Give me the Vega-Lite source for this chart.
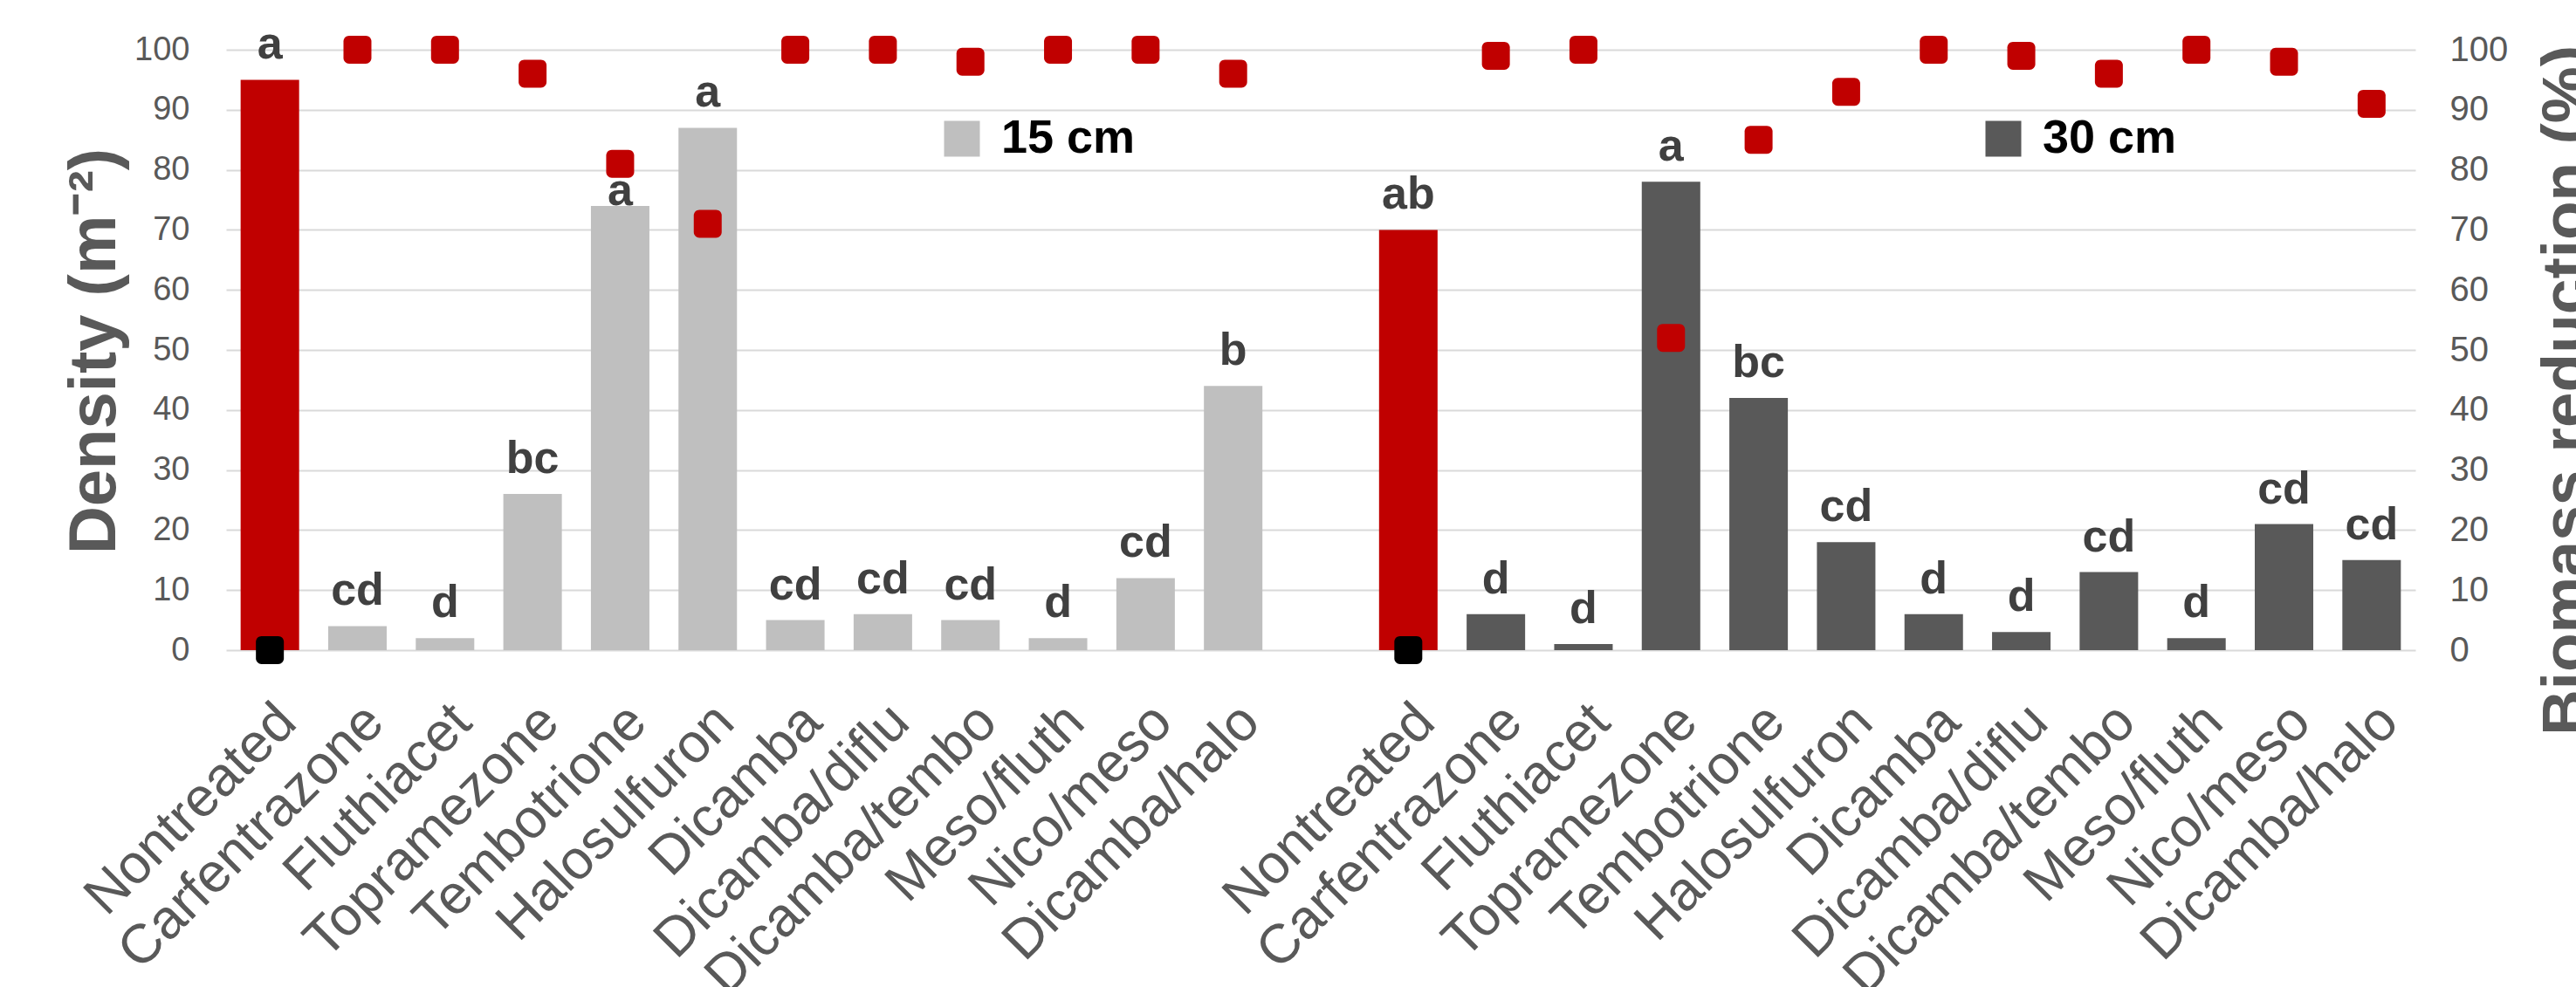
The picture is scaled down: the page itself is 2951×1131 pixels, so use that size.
{
  "$schema": "https://vega.github.io/schema/vega-lite/v6.json",
  "autosize": {"type": "none"},
  "width": 2508,
  "height": 688,
  "padding": {"left": 259, "top": 57, "right": 184, "bottom": 386},
  "background": "white",
  "config": {
    "view": {"stroke": null},
    "font": "Liberation Sans"
  },
  "data": {
    "values": [
      {"slot": "15 cm|Nontreated", "height": "15 cm", "treatment": "Nontreated", "density": 95, "letter": "a", "biomass": 0},
      {"slot": "15 cm|Carfentrazone", "height": "15 cm", "treatment": "Carfentrazone", "density": 4, "letter": "cd", "biomass": 100},
      {"slot": "15 cm|Fluthiacet", "height": "15 cm", "treatment": "Fluthiacet", "density": 2, "letter": "d", "biomass": 100},
      {"slot": "15 cm|Topramezone", "height": "15 cm", "treatment": "Topramezone", "density": 26, "letter": "bc", "biomass": 96},
      {"slot": "15 cm|Tembotrione", "height": "15 cm", "treatment": "Tembotrione", "density": 74, "letter": "a", "biomass": 81},
      {"slot": "15 cm|Halosulfuron", "height": "15 cm", "treatment": "Halosulfuron", "density": 87, "letter": "a", "biomass": 71},
      {"slot": "15 cm|Dicamba", "height": "15 cm", "treatment": "Dicamba", "density": 5, "letter": "cd", "biomass": 100},
      {"slot": "15 cm|Dicamba/diflu", "height": "15 cm", "treatment": "Dicamba/diflu", "density": 6, "letter": "cd", "biomass": 100},
      {"slot": "15 cm|Dicamba/tembo", "height": "15 cm", "treatment": "Dicamba/tembo", "density": 5, "letter": "cd", "biomass": 98},
      {"slot": "15 cm|Meso/fluth", "height": "15 cm", "treatment": "Meso/fluth", "density": 2, "letter": "d", "biomass": 100},
      {"slot": "15 cm|Nico/meso", "height": "15 cm", "treatment": "Nico/meso", "density": 12, "letter": "cd", "biomass": 100},
      {"slot": "15 cm|Dicamba/halo", "height": "15 cm", "treatment": "Dicamba/halo", "density": 44, "letter": "b", "biomass": 96},
      {"slot": "30 cm|Nontreated", "height": "30 cm", "treatment": "Nontreated", "density": 70, "letter": "ab", "biomass": 0},
      {"slot": "30 cm|Carfentrazone", "height": "30 cm", "treatment": "Carfentrazone", "density": 6, "letter": "d", "biomass": 99},
      {"slot": "30 cm|Fluthiacet", "height": "30 cm", "treatment": "Fluthiacet", "density": 1, "letter": "d", "biomass": 100},
      {"slot": "30 cm|Topramezone", "height": "30 cm", "treatment": "Topramezone", "density": 78, "letter": "a", "biomass": 52},
      {"slot": "30 cm|Tembotrione", "height": "30 cm", "treatment": "Tembotrione", "density": 42, "letter": "bc", "biomass": 85},
      {"slot": "30 cm|Halosulfuron", "height": "30 cm", "treatment": "Halosulfuron", "density": 18, "letter": "cd", "biomass": 93},
      {"slot": "30 cm|Dicamba", "height": "30 cm", "treatment": "Dicamba", "density": 6, "letter": "d", "biomass": 100},
      {"slot": "30 cm|Dicamba/diflu", "height": "30 cm", "treatment": "Dicamba/diflu", "density": 3, "letter": "d", "biomass": 99},
      {"slot": "30 cm|Dicamba/tembo", "height": "30 cm", "treatment": "Dicamba/tembo", "density": 13, "letter": "cd", "biomass": 96},
      {"slot": "30 cm|Meso/fluth", "height": "30 cm", "treatment": "Meso/fluth", "density": 2, "letter": "d", "biomass": 100},
      {"slot": "30 cm|Nico/meso", "height": "30 cm", "treatment": "Nico/meso", "density": 21, "letter": "cd", "biomass": 98},
      {"slot": "30 cm|Dicamba/halo", "height": "30 cm", "treatment": "Dicamba/halo", "density": 15, "letter": "cd", "biomass": 91}
    ]
  },
  "encoding": {
    "x": {
      "field": "slot",
      "type": "nominal",
      "sort": null,
      "scale": {
        "domain": ["15 cm|Nontreated", "15 cm|Carfentrazone", "15 cm|Fluthiacet", "15 cm|Topramezone", "15 cm|Tembotrione", "15 cm|Halosulfuron", "15 cm|Dicamba", "15 cm|Dicamba/diflu", "15 cm|Dicamba/tembo", "15 cm|Meso/fluth", "15 cm|Nico/meso", "15 cm|Dicamba/halo", "gap", "30 cm|Nontreated", "30 cm|Carfentrazone", "30 cm|Fluthiacet", "30 cm|Topramezone", "30 cm|Tembotrione", "30 cm|Halosulfuron", "30 cm|Dicamba", "30 cm|Dicamba/diflu", "30 cm|Dicamba/tembo", "30 cm|Meso/fluth", "30 cm|Nico/meso", "30 cm|Dicamba/halo"],
        "paddingInner": 0.332,
        "paddingOuter": 0.166
      },
      "axis": {
        "title": null,
        "labelExpr": "indexof(datum.value, '|') >= 0 ? split(datum.value, '|')[1] : ''",
        "labelAngle": -45,
        "labelAlign": "right",
        "labelBaseline": "top",
        "labelFontSize": 63,
        "labelColor": "#595959",
        "labelPadding": 50,
        "labelOffset": -2,
        "labelLimit": 1000,
        "labelOverlap": false,
        "labelBound": false,
        "labelFlush": false,
        "domain": false,
        "ticks": false,
        "grid": false
      }
    }
  },
  "layer": [
    {
      "mark": {"type": "bar"},
      "encoding": {
        "y": {
          "field": "density",
          "type": "quantitative",
          "scale": {"domain": [0, 100], "nice": false, "zero": true},
          "axis": {
            "orient": "left",
            "values": [0, 10, 20, 30, 40, 50, 60, 70, 80, 90, 100],
            "title": "Density (m⁻²)",
            "titleFontSize": 76,
            "titleFontWeight": "bold",
            "titleColor": "#595959",
            "titleAngle": 270,
            "titleAlign": "center",
            "titleBaseline": "alphabetic",
            "titleX": -128,
            "titleY": 345,
            "labelFontSize": 38,
            "labelColor": "#595959",
            "labelPadding": 42,
            "ticks": false,
            "domain": false,
            "grid": true,
            "gridColor": "#D9D9D9",
            "gridWidth": 2,
            "zindex": 0
          }
        },
        "color": {
          "condition": {"test": "datum.treatment === 'Nontreated'", "value": "#C00000"},
          "field": "height",
          "type": "nominal",
          "scale": {"domain": ["15 cm", "30 cm"], "range": ["#BFBFBF", "#595959"]},
          "legend": {
            "title": null,
            "orient": "none",
            "direction": "horizontal",
            "columns": 2,
            "legendX": 816,
            "legendY": 75,
            "padding": 0,
            "symbolType": "square",
            "symbolSize": 1681,
            "symbolStrokeWidth": 0,
            "symbolOpacity": 1,
            "labelFontSize": 54,
            "labelFontWeight": "bold",
            "labelColor": "#000000",
            "labelOffset": 18,
            "labelLimit": 500,
            "columnPadding": 967
          }
        }
      }
    },
    {
      "transform": [{"filter": "datum.slot !== '15 cm|Tembotrione'"}],
      "mark": {"type": "text", "baseline": "alphabetic", "align": "center", "dy": -24, "fontSize": 52, "fontWeight": "bold", "color": "#404040"},
      "encoding": {
        "y": {"field": "density", "type": "quantitative", "scale": {"domain": [0, 100], "nice": false}, "axis": null},
        "text": {"field": "letter"}
      }
    },
    {
      "transform": [{"filter": "datum.slot === '15 cm|Tembotrione'"}],
      "mark": {"type": "text", "baseline": "alphabetic", "align": "center", "dy": -1, "fontSize": 52, "fontWeight": "bold", "color": "#404040"},
      "encoding": {
        "y": {"field": "density", "type": "quantitative", "scale": {"domain": [0, 100], "nice": false}, "axis": null},
        "text": {"field": "letter"}
      }
    },
    {
      "mark": {
        "type": "point",
        "filled": true,
        "opacity": 1,
        "strokeWidth": 0,
        "size": 1024,
        "shape": "M-0.6,-1L0.6,-1A0.4,0.4,0,0,1,1,-0.6L1,0.6A0.4,0.4,0,0,1,0.6,1L-0.6,1A0.4,0.4,0,0,1,-1,0.6L-1,-0.6A0.4,0.4,0,0,1,-0.6,-1Z"
      },
      "encoding": {
        "y": {
          "field": "biomass",
          "type": "quantitative",
          "scale": {"domain": [0, 100], "nice": false},
          "axis": {
            "orient": "right",
            "values": [0, 10, 20, 30, 40, 50, 60, 70, 80, 90, 100],
            "title": "Biomass reduction (%)",
            "titleFontSize": 73,
            "titleFontWeight": "bold",
            "titleColor": "#595959",
            "titleAngle": 270,
            "titleAlign": "center",
            "titleBaseline": "alphabetic",
            "titleX": 195,
            "titleY": 390,
            "labelFontSize": 40,
            "labelColor": "#595959",
            "labelPadding": 39,
            "ticks": false,
            "domain": false,
            "grid": false
          }
        },
        "color": {
          "condition": {"test": "datum.treatment === 'Nontreated'", "value": "#000000"},
          "value": "#C00000"
        }
      }
    }
  ],
  "resolve": {"scale": {"y": "independent"}}
}
